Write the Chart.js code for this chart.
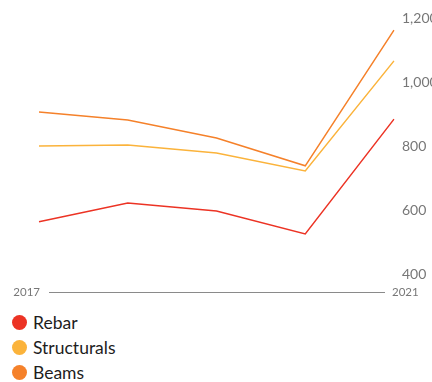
<!DOCTYPE html>
<html>
<head>
<meta charset="utf-8">
<script src="https://cdn.jsdelivr.net/npm/chart.js@4"></script>
<style>
  html, body { margin: 0; padding: 0; background: #fff; overflow: hidden; }
  body { width: 432px; height: 382px; position: relative; font-family: "Lato", "Noto Sans", sans-serif; }
  #wrap { position: absolute; left: 0; top: 0; width: 460px; height: 300px; }
  #legend { position: absolute; left: 12px; top: 310px; list-style: none; margin: 0; padding: 0; }
  #legend li { height: 25px; line-height: 22px; font-size: 17.5px; color: #1d1d1d; display: flex; align-items: center; }
  #legend span { width: 15px; height: 15px; border-radius: 50%; margin-right: 6px; display: inline-block; }
</style>
</head>
<body>
<div id="wrap"><canvas id="chart"></canvas></div>
<ul id="legend"></ul>
<script>
const years = ["2017", "2018", "2019", "2020", "2021"];
const rebar = [563, 622, 597, 525, 884];
const structurals = [800, 803, 778, 722, 1066];
const beams = [906, 881, 825, 738, 1162];
const seriesNames = ["Rebar", "Structurals", "Beams"];
const seriesColors = ["#ec3324", "#fbb33b", "#f5812a"];
const yTicks = [400, 600, 800, 1000, 1200];

// bottom baseline with first / last year at its ends
const baseline = {
  id: "baseline",
  afterDraw(chart) {
    const ctx = chart.ctx;
    const x = chart.scales.x;
    const left = x.getPixelForValue(0);
    const right = x.getPixelForValue(years.length - 1);
    const y = 292;
    ctx.save();
    ctx.strokeStyle = "#8a8a8a";
    ctx.lineWidth = 1;
    ctx.beginPath();
    ctx.moveTo(left + 10, y + 0.5);
    ctx.lineTo(right - 9, y + 0.5);
    ctx.stroke();
    ctx.fillStyle = "#777";
    ctx.font = "11.5px Lato, 'Noto Sans', sans-serif";
    ctx.textBaseline = "middle";
    ctx.textAlign = "right";
    ctx.fillText(years[0], left + 1, y);
    ctx.textAlign = "left";
    ctx.fillText(years[years.length - 1], right - 2, y);
    ctx.restore();
  }
};

const data = [rebar, structurals, beams];

new Chart(document.getElementById("chart"), {
  type: "line",
  data: {
    labels: years,
    datasets: seriesNames.map((name, i) => ({
      label: name,
      data: data[i],
      borderColor: seriesColors[i],
      borderWidth: 1.5,
      pointRadius: 0,
      tension: 0,
      fill: false
    }))
  },
  options: {
    responsive: true,
    maintainAspectRatio: false,
    animation: false,
    layout: { padding: { left: 39, top: 18, bottom: 26, right: 0 } },
    plugins: { legend: { display: false }, tooltip: { enabled: false } },
    scales: {
      x: { display: false, offset: false },
      y: {
        position: "right",
        min: 400,
        max: 1200,
        afterBuildTicks(scale) { scale.ticks = yTicks.map(v => ({ value: v })); },
        afterFit(scale) { scale.width = 66; },
        grid: { display: false, drawTicks: false },
        border: { display: false },
        ticks: {
          padding: 8,
          color: "#777",
          font: { size: 14, family: "Lato, 'Noto Sans', sans-serif" },
          callback: v => v.toLocaleString("en-US")
        }
      }
    }
  },
  plugins: [baseline]
});

const legend = document.getElementById("legend");
seriesNames.forEach((name, i) => {
  const li = document.createElement("li");
  li.innerHTML = '<span style="background:' + seriesColors[i] + '"></span>' + name;
  legend.appendChild(li);
});
</script>
</body>
</html>
